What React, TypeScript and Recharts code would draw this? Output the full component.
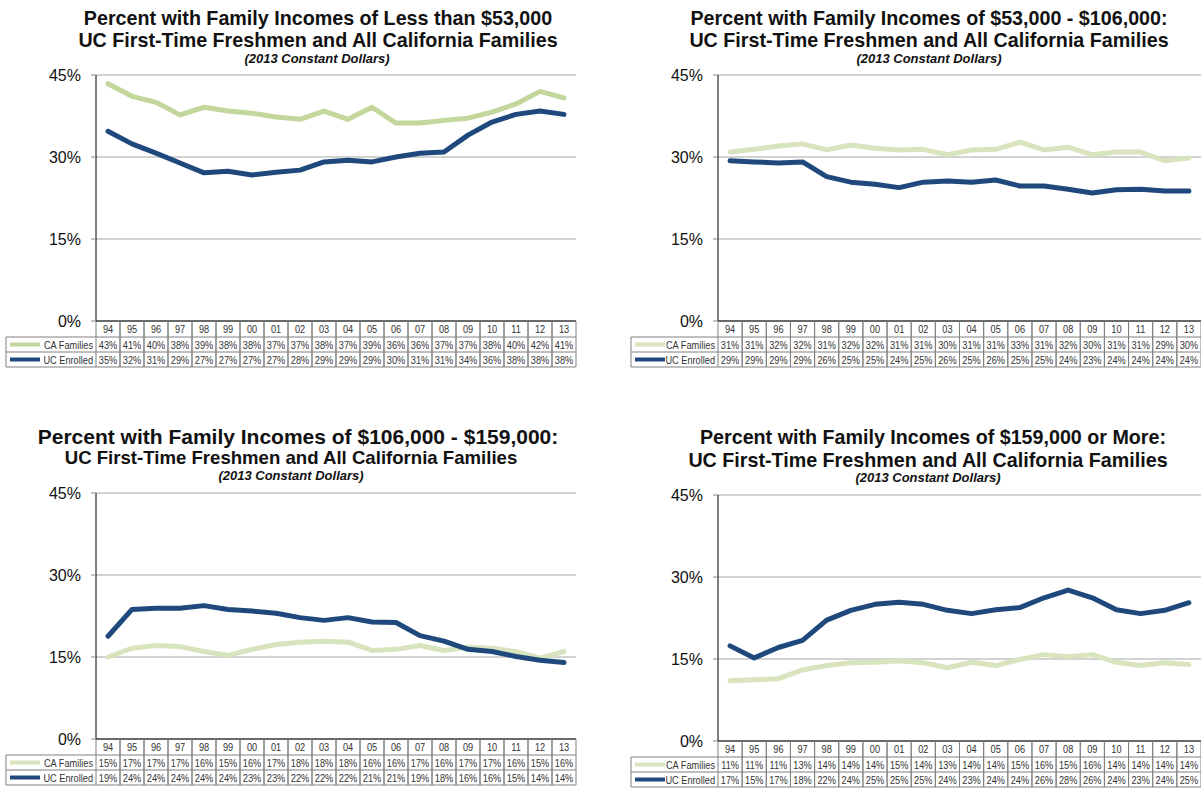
import { LineChart, Line, XAxis, YAxis, CartesianGrid } from "recharts";

const years = ["94", "95", "96", "97", "98", "99", "00", "01", "02", "03", "04", "05", "06", "07", "08", "09", "10", "11", "12", "13"];
const yTicks = [0, 15, 30, 45];

// Less than $53,000
const lowCA = [43.4, 41.1, 40.0, 37.7, 39.1, 38.4, 38.0, 37.3, 36.9, 38.4, 36.9, 39.1, 36.2, 36.2, 36.7, 37.1, 38.2, 39.7, 42.0, 40.8];
const lowUC = [34.7, 32.4, 30.7, 28.9, 27.1, 27.4, 26.7, 27.2, 27.6, 29.1, 29.4, 29.1, 30.0, 30.7, 30.9, 34.0, 36.4, 37.8, 38.4, 37.8];
// $53,000 - $106,000
const midCA = [30.9, 31.4, 32.0, 32.4, 31.3, 32.2, 31.6, 31.3, 31.4, 30.4, 31.3, 31.4, 32.7, 31.3, 31.8, 30.4, 30.9, 30.9, 29.3, 29.8];
const midUC = [29.3, 29.1, 28.9, 29.1, 26.4, 25.4, 25.0, 24.4, 25.4, 25.6, 25.4, 25.8, 24.7, 24.7, 24.1, 23.4, 24.0, 24.1, 23.8, 23.8];
// $106,000 - $159,000
const upperCA = [15.0, 16.6, 17.1, 16.9, 16.0, 15.3, 16.4, 17.3, 17.7, 17.9, 17.7, 16.2, 16.4, 17.1, 16.2, 16.8, 16.6, 16.0, 14.8, 16.0];
const upperUC = [18.8, 23.7, 23.9, 23.9, 24.4, 23.7, 23.4, 23.0, 22.2, 21.7, 22.2, 21.4, 21.3, 18.9, 17.9, 16.4, 16.0, 15.1, 14.4, 14.0];
// $159,000 or more
const highCA = [11.0, 11.2, 11.4, 13.0, 13.8, 14.3, 14.4, 14.7, 14.3, 13.4, 14.4, 13.8, 14.9, 15.8, 15.4, 15.8, 14.4, 13.8, 14.3, 14.0];
const highUC = [17.4, 15.2, 17.1, 18.4, 22.1, 23.9, 25.0, 25.4, 25.0, 23.9, 23.3, 24.0, 24.4, 26.2, 27.6, 26.2, 24.0, 23.3, 23.9, 25.3];

const UC_COLOR = "#1F497D";
const TITLE_FONT = "'Liberation Sans', Arial, sans-serif";
const BORDER = "#808080";

const HEAD_H = 16;
const ROW_H = 15;

// narrow table text (no Arial Narrow available, so squeeze Liberation Sans)
function CellText({ x, y, anchor = "middle", children }: any) {
    return (
        <text transform={`translate(${x},${y}) scale(0.8,1)`} textAnchor={anchor} fontSize={11.5} fill="#333" fontFamily={TITLE_FONT}>{children}</text>
    );
}

function TableTick(props: any) {
    const { x, y, index, col, ca, uc, caColor, legendW } = props;
    const half = col / 2;
    const x0 = x - half;
    const x1 = x + half;
    const yb = y + HEAD_H + ROW_H * 2;
    return (
        <g>
            <line x1={x0} x2={x0} y1={y} y2={yb} stroke={BORDER} />
            <line x1={x1} x2={x1} y1={y} y2={yb} stroke={BORDER} />
            <line x1={x0} x2={x1} y1={y + HEAD_H} y2={y + HEAD_H} stroke={BORDER} />
            <line x1={x0} x2={x1} y1={y + HEAD_H + ROW_H} y2={y + HEAD_H + ROW_H} stroke={BORDER} />
            <line x1={x0} x2={x1} y1={yb} y2={yb} stroke={BORDER} />
            <CellText x={x} y={y + 12}>{years[index]}</CellText>
            <CellText x={x} y={y + HEAD_H + 11.5}>{Math.round(ca[index])}%</CellText>
            <CellText x={x} y={y + HEAD_H + ROW_H + 11.5}>{Math.round(uc[index])}%</CellText>
            {index === 0 && (
                <g>
                    <line x1={x0 - legendW} x2={x0} y1={y + HEAD_H} y2={y + HEAD_H} stroke={BORDER} />
                    <line x1={x0 - legendW} x2={x0} y1={y + HEAD_H + ROW_H} y2={y + HEAD_H + ROW_H} stroke={BORDER} />
                    <line x1={x0 - legendW} x2={x0} y1={yb} y2={yb} stroke={BORDER} />
                    <line x1={x0 - legendW} x2={x0 - legendW} y1={y + HEAD_H} y2={yb} stroke={BORDER} />
                    <line x1={x0 - legendW + 4} x2={x0 - legendW + 34} y1={y + HEAD_H + 7.5} y2={y + HEAD_H + 7.5} stroke={caColor} strokeWidth={4} />
                    <line x1={x0 - legendW + 4} x2={x0 - legendW + 34} y1={y + HEAD_H + ROW_H + 7.5} y2={y + HEAD_H + ROW_H + 7.5} stroke={UC_COLOR} strokeWidth={4} />
                    <CellText x={x0 - 3} y={y + HEAD_H + 11.5} anchor="end">CA Families</CellText>
                    <CellText x={x0 - 3} y={y + HEAD_H + ROW_H + 11.5} anchor="end">UC Enrolled</CellText>
                </g>
            )}
        </g>
    );
}

interface PanelProps {
    left: number;
    top: number;
    width: number;
    height: number;
    plotTop: number;
    plotBottom: number;
    axisX: number;
    rightMargin: number;
    legendW: number;
    title: string[];
    titleSizes: number[];
    titleCenters: number[];
    titleTops: number[];
    ca: number[];
    uc: number[];
    caColor: string;
}

function Panel(p: PanelProps) {
    const rows = years.map((year, i) => ({ year, ca: p.ca[i], uc: p.uc[i] }));
    const plotW = p.width - p.axisX - p.rightMargin;
    const col = plotW / years.length;
    const axisH = HEAD_H + ROW_H * 2;
    const mb = p.height - p.plotBottom - axisH;
    const titleStyle = (i: number): any => ({
        position: "absolute", left: p.titleCenters[i] - 300, top: p.titleTops[i], width: 600, textAlign: "center",
        fontFamily: TITLE_FONT, fontWeight: "bold", lineHeight: "20px", color: "#111", whiteSpace: "nowrap",
    });
    return (
        <div style={{ position: "absolute", left: p.left, top: p.top, width: p.width, height: p.height }}>
            <div style={{ ...titleStyle(0), fontSize: p.titleSizes[0] }}>{p.title[0]}</div>
            <div style={{ ...titleStyle(1), fontSize: p.titleSizes[1] }}>{p.title[1]}</div>
            <div style={{ ...titleStyle(2), fontSize: 13, fontStyle: "italic", lineHeight: "14px" }}>(2013 Constant Dollars)</div>
            <LineChart width={p.width} height={p.height} data={rows} margin={{ top: p.plotTop, right: p.rightMargin, left: 0, bottom: mb }}>
                <CartesianGrid vertical={false} stroke="#A6A6A6" />
                <XAxis
                    dataKey="year"
                    interval={0}
                    height={axisH}
                    padding={{ left: col / 2, right: col / 2 }}
                    tickLine={false}
                    tickSize={0}
                    tickMargin={0}
                    axisLine={{ stroke: "#000" }}
                    tick={(t: any) => <TableTick {...t} col={col} ca={p.ca} uc={p.uc} caColor={p.caColor} legendW={p.legendW} />}
                />
                <YAxis
                    domain={[0, 45]}
                    ticks={yTicks}
                    width={p.axisX}
                    tickFormatter={(v) => `${v}%`}
                    tick={{ fontSize: 16, fill: "#111", fontFamily: TITLE_FONT }}
                    tickSize={5}
                    tickMargin={10}
                    tickLine={{ stroke: "#888" }}
                    axisLine={{ stroke: "#000" }}
                />
                <Line type="linear" dataKey="ca" stroke={p.caColor} strokeWidth={5} dot={false} strokeLinecap="round" strokeLinejoin="round" isAnimationActive={false} />
                <Line type="linear" dataKey="uc" stroke={UC_COLOR} strokeWidth={5} dot={false} strokeLinecap="round" strokeLinejoin="round" isAnimationActive={false} />
            </LineChart>
        </div>
    );
}

export default function App() {
    return (
        <div style={{ position: "absolute", left: 0, top: 0, width: 1201, height: 789, background: "#fff", overflow: "hidden" }}>
            <Panel left={0} top={0} width={600} height={375} plotTop={75} plotBottom={321} axisX={96} rightMargin={24} legendW={90}
                title={["Percent with Family Incomes of Less than $53,000", "UC First-Time Freshmen and All California Families"]}
                titleSizes={[19.7, 19.7]} titleCenters={[318, 318, 317]} titleTops={[8, 30, 52]}
                ca={lowCA} uc={lowUC} caColor="#C3D69B" />
            <Panel left={600} top={0} width={601} height={375} plotTop={75} plotBottom={321} axisX={118} rightMargin={0} legendW={87}
                title={["Percent with Family Incomes of $53,000 - $106,000:", "UC First-Time Freshmen and All California Families"]}
                titleSizes={[19.7, 19.7]} titleCenters={[329, 329, 329]} titleTops={[8, 30, 52]}
                ca={midCA} uc={midUC} caColor="#D7E4BD" />
            <Panel left={0} top={400} width={600} height={389} plotTop={93} plotBottom={339} axisX={96} rightMargin={24} legendW={90}
                title={["Percent with Family Incomes of $106,000 - $159,000:", "UC First-Time Freshmen and All California Families"]}
                titleSizes={[21, 18.6]} titleCenters={[298, 291, 291]} titleTops={[27, 48, 69]}
                ca={upperCA} uc={upperUC} caColor="#D7E4BD" />
            <Panel left={600} top={400} width={601} height={389} plotTop={95} plotBottom={341} axisX={118} rightMargin={0} legendW={87}
                title={["Percent with Family Incomes of $159,000 or More:", "UC First-Time Freshmen and All California Families"]}
                titleSizes={[19.7, 19.7]} titleCenters={[333, 328, 328]} titleTops={[27, 50, 71]}
                ca={highCA} uc={highUC} caColor="#D7E4BD" />
        </div>
    );
}
